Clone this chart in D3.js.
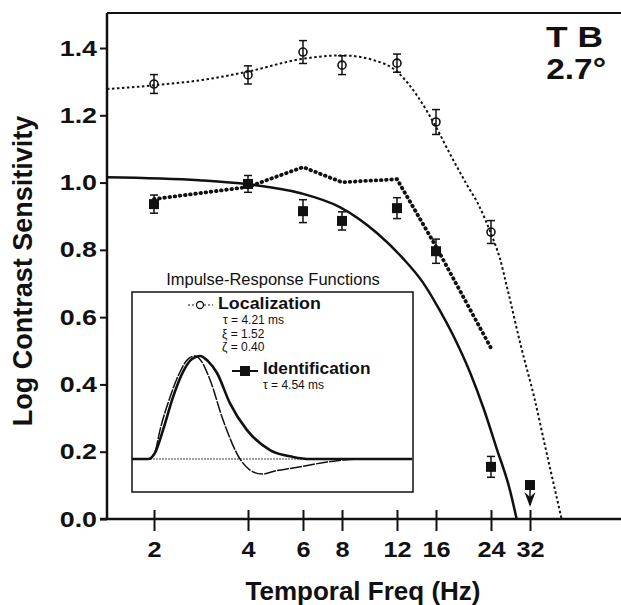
<!DOCTYPE html>
<html>
<head>
<meta charset="utf-8">
<title>Log Contrast Sensitivity vs Temporal Freq</title>
<style>
  body { margin: 0; background: #fff; }
  svg { font-family: Arial, "Liberation Sans", Helvetica, sans-serif; }
  .axis text { font-weight: bold; font-size: 22px; fill: #111; }
  .axis line { stroke: #111; stroke-width: 2; }
</style>
</head>
<body>
<div id="chart"></div>
<script src="https://cdn.jsdelivr.net/npm/d3@7"></script>
<script>
// ---- values ----
const xTickValues = [2, 4, 6, 8, 12, 16, 24, 32];
const yTickValues = [0, 0.2, 0.4, 0.6, 0.8, 1.0, 1.2, 1.4];

// open circles: localization
const locFreq = [2, 4, 6, 8, 12, 16, 24];
const locSens = [1.293, 1.320, 1.388, 1.349, 1.355, 1.180, 0.853];
const locErr  = [0.028, 0.027, 0.034, 0.028, 0.027, 0.037, 0.034];

// filled squares: identification (32 Hz is an upper limit, arrow)
const idFreq = [2, 4, 6, 8, 12, 16, 24, 32];
const idSens = [0.936, 0.996, 0.915, 0.886, 0.924, 0.796, 0.155, 0.101];
const idErr  = [0.027, 0.025, 0.034, 0.027, 0.031, 0.036, 0.031, 0];

// fine dotted fit (localization)
const locFitFreq = [1.414, 2, 3, 4, 6, 8, 10, 12, 14, 16, 18, 20, 22, 24, 25.6, 27, 30, 33, 36, 40.4];
const locFitSens = [1.278, 1.289, 1.308, 1.330, 1.368, 1.378, 1.365, 1.330, 1.255, 1.165, 1.074, 0.997, 0.930, 0.848, 0.776, 0.690, 0.510, 0.362, 0.205, 0];

// solid fit (identification)
const idFitFreq = [1.414, 2.79, 4, 5.86, 7.87, 10.35, 12.5, 14.5, 16.16, 18.2, 20.6, 22.7, 25, 27.6, 29];
const idFitSens = [1.016, 1.007, 0.995, 0.969, 0.927, 0.850, 0.776, 0.704, 0.633, 0.544, 0.434, 0.330, 0.211, 0.086, 0];

// heavy dotted line
const heavyFreq = [2, 4, 6, 8, 12, 16, 24];
const heavySens = [0.951, 0.987, 1.046, 1.001, 1.010, 0.810, 0.508];

// inset: impulse-response functions (time in ms, normalised amplitude)
const irfLocTime = [0, 8, 11.5, 14, 19, 24, 28, 31.5, 35, 39, 45.5, 54, 59, 65, 72.5, 80.5, 89, 97.5, 105.5, 114, 140];
const irfLocAmp  = [0, 0, 0.07, 0.28, 0.60, 0.845, 0.97, 1.0, 0.94, 0.77, 0.38, 0, -0.107, -0.146, -0.112, -0.087, -0.058, -0.029, -0.01, 0, 0];
const irfIdTime  = [0, 8, 11.5, 15.5, 20.5, 25.5, 30, 34, 38, 42.5, 49, 57.5, 69, 80.5, 89, 140];
const irfIdAmp   = [0, 0, 0.06, 0.28, 0.60, 0.845, 0.97, 1.0, 0.95, 0.835, 0.54, 0.28, 0.087, 0.02, 0, 0];

// ---- layout ----
const W = 621, H = 605;
const plotLeft = 107, plotTop = 13, plotBottom = 519;
const ink = "#111";

const svg = d3.select("#chart").append("svg")
  .attr("width", W).attr("height", H);

const x = d3.scaleLog().base(2).domain([2, 32]).range([154, 530]);
const y = d3.scaleLinear().domain([0, 1.4]).range([plotBottom, 48]);

// frame
svg.append("line").attr("x1", plotLeft).attr("x2", W).attr("y1", plotTop).attr("y2", plotTop)
  .attr("stroke", ink).attr("stroke-width", 2);
svg.append("line").attr("x1", plotLeft).attr("x2", plotLeft).attr("y1", plotTop).attr("y2", plotBottom)
  .attr("stroke", ink).attr("stroke-width", 2.5);
svg.append("line").attr("x1", 100).attr("x2", W).attr("y1", plotBottom).attr("y2", plotBottom)
  .attr("stroke", ink).attr("stroke-width", 2.5);

// y axis
const ya = svg.append("g").attr("class", "axis")
  .attr("transform", `translate(${plotLeft},0)`)
  .call(d3.axisLeft(y).tickValues(yTickValues).tickFormat(d3.format(".1f"))
    .tickSize(7).tickSizeOuter(0).tickPadding(3));
ya.select(".domain").remove();
ya.selectAll("text").attr("x", -10 / 1.22).attr("transform", "scale(1.22,1)");

// x axis, ticks cross the line
const xa = svg.append("g").attr("class", "axis")
  .attr("transform", `translate(0,${plotBottom})`)
  .call(d3.axisBottom(x).tickValues(xTickValues).tickFormat(d3.format("d"))
    .tickSize(12).tickSizeOuter(0).tickPadding(10));
xa.select(".domain").remove();
xa.selectAll("line").attr("y1", -9).attr("stroke-width", 1.6);
xa.selectAll("text").attr("transform", "scale(1.15,1)");

// axis titles
svg.append("text")
  .attr("transform", "translate(32,271) rotate(-90)")
  .attr("text-anchor", "middle")
  .style("font-weight", "bold").style("font-size", "27px").attr("fill", ink)
  .text("Log Contrast Sensitivity");
svg.append("text")
  .attr("x", 363).attr("y", 600)
  .attr("text-anchor", "middle")
  .style("font-weight", "bold").style("font-size", "26px").attr("fill", ink)
  .text("Temporal Freq (Hz)");

// subject / eccentricity label
svg.append("text").attr("transform", "translate(603,47) scale(1.22,1)")
  .attr("text-anchor", "end").style("font-weight", "bold").style("font-size", "29px")
  .attr("fill", ink).text("T B");
svg.append("text").attr("transform", "translate(606,79) scale(1.15,1)")
  .attr("text-anchor", "end").style("font-weight", "bold").style("font-size", "29px")
  .attr("fill", ink).text("2.7°");

// ---- inset (drawn under the main curves) ----
const tScale = d3.scaleLinear().domain([0, 140]).range([132, 412]);
const aScale = d3.scaleLinear().domain([0, 1]).range([459, 356]);

svg.append("text").attr("x", 273).attr("y", 285).attr("text-anchor", "middle")
  .style("font-size", "16.5px").attr("fill", ink).text("Impulse-Response Functions");

svg.append("rect").attr("x", 132).attr("y", 292).attr("width", 281).attr("height", 200)
  .attr("fill", "#fff").attr("stroke", ink).attr("stroke-width", 1.5);

svg.append("line").attr("x1", tScale(0)).attr("x2", tScale(140))
  .attr("y1", aScale(0)).attr("y2", aScale(0))
  .attr("stroke", "#444").attr("stroke-width", 1).attr("stroke-dasharray", "2,1");

const irfLine = d3.line().x(d => tScale(d[0])).y(d => aScale(d[1])).curve(d3.curveMonotoneX);
svg.append("path").datum(d3.zip(irfLocTime, irfLocAmp)).attr("d", irfLine)
  .attr("fill", "none").attr("stroke", ink).attr("stroke-width", 1.5).attr("stroke-dasharray", "12,1.2");
svg.append("path").datum(d3.zip(irfIdTime, irfIdAmp)).attr("d", irfLine)
  .attr("fill", "none").attr("stroke", ink).attr("stroke-width", 2.6);

// inset legend
svg.append("line").attr("x1", 188).attr("x2", 213).attr("y1", 305).attr("y2", 305)
  .attr("stroke", ink).attr("stroke-width", 1.2).attr("stroke-dasharray", "2,2");
svg.append("circle").attr("cx", 200).attr("cy", 305).attr("r", 3.5)
  .attr("fill", "#fff").attr("stroke", ink).attr("stroke-width", 1.3);
svg.append("text").attr("transform", "translate(218,309) scale(1.08,1)")
  .style("font-weight", "bold").style("font-size", "16.5px").attr("fill", ink).text("Localization");

const params = [["τ = 4.21 ms", 223, 324], ["ξ = 1.52", 222, 337.5], ["ζ = 0.40", 222, 351]];
svg.selectAll(".param").data(params).enter().append("text").attr("class", "param")
  .attr("x", d => d[1]).attr("y", d => d[2])
  .style("font-size", "12px").attr("fill", ink).text(d => d[0]);

svg.append("line").attr("x1", 232).attr("x2", 258).attr("y1", 371).attr("y2", 371)
  .attr("stroke", ink).attr("stroke-width", 2);
svg.append("rect").attr("x", 240).attr("y", 366).attr("width", 10).attr("height", 10).attr("fill", ink);
svg.append("text").attr("transform", "translate(263,374) scale(1.08,1)")
  .style("font-weight", "bold").style("font-size", "16px").attr("fill", ink).text("Identification");
svg.append("text").attr("x", 263).attr("y", 389)
  .style("font-size", "12px").attr("fill", ink).text("τ = 4.54 ms");

// ---- main curves ----
const line = d3.line().x(d => x(d[0])).y(d => y(d[1])).curve(d3.curveMonotoneX);

svg.append("path").datum(d3.zip(idFitFreq, idFitSens)).attr("d", line)
  .attr("fill", "none").attr("stroke", ink).attr("stroke-width", 2.5);

svg.append("path").datum(d3.zip(locFitFreq, locFitSens)).attr("d", line)
  .attr("fill", "none").attr("stroke", ink).attr("stroke-width", 2)
  .attr("stroke-dasharray", "2.5,2.5");

svg.append("path").datum(d3.zip(heavyFreq, heavySens))
  .attr("d", d3.line().x(d => x(d[0])).y(d => y(d[1])))
  .attr("fill", "none").attr("stroke", ink).attr("stroke-width", 3.8)
  .attr("stroke-linecap", "round").attr("stroke-dasharray", "0.6,4.6");

// ---- error bars and markers ----
function errorBars(freqs, vals, errs) {
  const g = svg.append("g").attr("stroke", ink).attr("stroke-width", 1.5);
  freqs.forEach((f, i) => {
    if (!errs[i]) return;
    const cx = x(f), y0 = y(vals[i] - errs[i]), y1 = y(vals[i] + errs[i]);
    g.append("line").attr("x1", cx).attr("x2", cx).attr("y1", y0).attr("y2", y1);
    g.append("line").attr("x1", cx - 4).attr("x2", cx + 4).attr("y1", y0).attr("y2", y0);
    g.append("line").attr("x1", cx - 4).attr("x2", cx + 4).attr("y1", y1).attr("y2", y1);
  });
}
errorBars(locFreq, locSens, locErr);
errorBars(idFreq, idSens, idErr);

svg.selectAll(".loc").data(d3.zip(locFreq, locSens)).enter().append("circle")
  .attr("class", "loc")
  .attr("cx", d => x(d[0])).attr("cy", d => y(d[1])).attr("r", 4)
  .attr("fill", "none").attr("stroke", ink).attr("stroke-width", 1.6);

svg.selectAll(".id").data(d3.zip(idFreq, idSens)).enter().append("rect")
  .attr("class", "id")
  .attr("x", d => x(d[0]) - 5).attr("y", d => y(d[1]) - 5)
  .attr("width", 10).attr("height", 10).attr("fill", ink);

// upper-limit arrow under the last identification point
const last = idFreq.length - 1;
const ax = x(idFreq[last]), ay = y(idSens[last]);
svg.append("line").attr("x1", ax).attr("x2", ax).attr("y1", ay + 5).attr("y2", ay + 20)
  .attr("stroke", ink).attr("stroke-width", 1.5);
svg.append("path")
  .attr("d", `M${ax},${ay + 22} L${ax - 5.5},${ay + 7} L${ax},${ay + 12} L${ax + 5.5},${ay + 7} Z`)
  .attr("fill", ink);
</script>
</body>
</html>
